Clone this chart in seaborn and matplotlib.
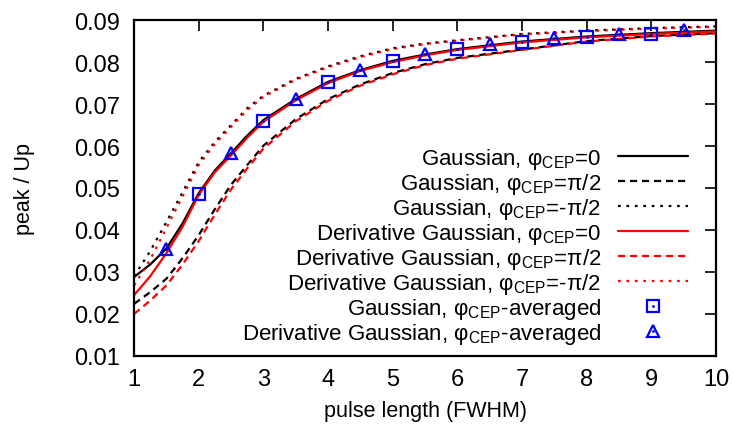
import numpy as np
import pandas as pd
import matplotlib
matplotlib.use("Agg")
import matplotlib.pyplot as plt
import seaborn as sns
from matplotlib.legend_handler import HandlerTuple

# ---- data ----
x_curve = [1.0, 1.25, 1.5, 1.75, 2.0, 2.25, 2.5, 2.75, 3.0, 3.5, 4.0, 4.5, 5.0, 5.5, 6.0, 7.0, 8.0, 9.0, 10.0]

gauss_0 = [0.0288, 0.0318, 0.0356, 0.0416, 0.0488, 0.0542, 0.0583, 0.0625, 0.0662, 0.0712, 0.0753,
           0.0781, 0.0803, 0.0818, 0.0831, 0.0849, 0.0861, 0.0869, 0.0875]
gauss_p = [0.0224, 0.0252, 0.0284, 0.0333, 0.0388, 0.0450, 0.0508, 0.0555, 0.0601, 0.0664, 0.0712,
           0.0747, 0.0774, 0.0795, 0.0810, 0.0830, 0.0850, 0.0862, 0.0869]
gauss_m = [0.0290, 0.0350, 0.0419, 0.0490, 0.0562, 0.0610, 0.0650, 0.0690, 0.0720, 0.0760, 0.0790,
           0.0814, 0.0833, 0.0844, 0.0852, 0.0867, 0.0875, 0.0881, 0.0885]
dgauss_0 = [0.0245, 0.0290, 0.0345, 0.0408, 0.0484, 0.0538, 0.0578, 0.0620, 0.0658, 0.0709, 0.0750,
            0.0779, 0.0800, 0.0816, 0.0829, 0.0847, 0.0859, 0.0867, 0.0873]
dgauss_p = [0.0200, 0.0232, 0.0268, 0.0318, 0.0374, 0.0437, 0.0497, 0.0547, 0.0594, 0.0659, 0.0708,
            0.0744, 0.0771, 0.0793, 0.0808, 0.0829, 0.0849, 0.0861, 0.0868]
dgauss_m = [0.0268, 0.0330, 0.0405, 0.0480, 0.0555, 0.0605, 0.0646, 0.0686, 0.0717, 0.0758, 0.0788,
            0.0812, 0.0831, 0.0843, 0.0851, 0.0866, 0.0874, 0.0880, 0.0884]

x_gauss_avg = [2, 3, 4, 5, 6, 7, 8, 9]
gauss_avg = [0.0486, 0.0660, 0.0752, 0.0802, 0.0831, 0.0848, 0.0859, 0.0868]
x_dgauss_avg = [1.5, 2.5, 3.5, 4.5, 5.5, 6.5, 7.5, 8.5, 9.5]
dgauss_avg = [0.0355, 0.0583, 0.0712, 0.0781, 0.0819, 0.0842, 0.0857, 0.0868, 0.0876]

labels = [
    "Gaussian, φ$_{\\mathrm{CEP}}$=0",
    "Gaussian, φ$_{\\mathrm{CEP}}$=π/2",
    "Gaussian, φ$_{\\mathrm{CEP}}$=-π/2",
    "Derivative Gaussian, φ$_{\\mathrm{CEP}}$=0",
    "Derivative Gaussian, φ$_{\\mathrm{CEP}}$=π/2",
    "Derivative Gaussian, φ$_{\\mathrm{CEP}}$=-π/2",
    "Gaussian, φ$_{\\mathrm{CEP}}$-averaged",
    "Derivative Gaussian, φ$_{\\mathrm{CEP}}$-averaged",
]
x_ticks = [1, 2, 3, 4, 5, 6, 7, 8, 9, 10]
y_ticks = [0.01, 0.02, 0.03, 0.04, 0.05, 0.06, 0.07, 0.08, 0.09]

# ---- style ----
sns.set_theme(style="white")
plt.rcParams["font.family"] = ["Liberation Sans", "DejaVu Sans"]
plt.rcParams["mathtext.fontset"] = "custom"
plt.rcParams["mathtext.rm"] = "Liberation Sans"
plt.rcParams["mathtext.it"] = "Liberation Sans"
plt.rcParams["font.size"] = 14
plt.rcParams["text.color"] = "black"
plt.rcParams["axes.labelcolor"] = "black"

fig = plt.figure(figsize=(7.33, 4.31), dpi=100)
ax = fig.add_axes([0.183, 0.172, 0.794, 0.779])

dash = (0, (3.2, 2.2))
dot = (0, (1.2, 2.6))
lw = 1.6

series = [
    (gauss_0, "black", "-"),
    (gauss_p, "black", dash),
    (gauss_m, "black", dot),
    (dgauss_0, "red", "-"),
    (dgauss_p, "red", dash),
    (dgauss_m, "red", dot),
]
handles = []
for (ys, col, ls), lab in zip(series, labels[:6]):
    df = pd.DataFrame({"x": x_curve, "y": ys})
    sns.lineplot(data=df, x="x", y="y", color=col, linestyle=ls, linewidth=lw, ax=ax)
    handles.append(ax.get_lines()[-1])

def markers(xs, ys, m, ms):
    df = pd.DataFrame({"x": xs, "y": ys})
    sns.lineplot(data=df, x="x", y="y", linestyle="", marker=m, markersize=ms,
                 markerfacecolor="none", markeredgecolor="blue", markeredgewidth=1.6,
                 color="blue", ax=ax, zorder=5)
    h1 = ax.get_lines()[-1]
    sns.lineplot(data=df, x="x", y="y", linestyle="", marker="o", markersize=2.0,
                 markerfacecolor="blue", markeredgecolor="blue", markeredgewidth=0,
                 color="blue", ax=ax, zorder=6)
    h2 = ax.get_lines()[-1]
    return (h1, h2)

handles.append(markers(x_gauss_avg, gauss_avg, "s", 9))
handles.append(markers(x_dgauss_avg, dgauss_avg, "^", 9))

ax.set_xlim(1, 10)
ax.set_ylim(0.01, 0.09)
ax.set_xticks(x_ticks)
ax.set_xticklabels([str(t) for t in x_ticks])
ax.set_yticks(y_ticks)
ax.set_yticklabels([f"{t:.2f}" for t in y_ticks])
ax.tick_params(direction="in", length=8, width=1.2, top=True, right=True,
               labelsize=17, colors="black")
ax.tick_params(axis="x", pad=9)
ax.tick_params(axis="y", pad=10)
for s in ax.spines.values():
    s.set_visible(True)
    s.set_color("black")
    s.set_linewidth(1.6)
ax.set_xlabel("pulse length (FWHM)", fontsize=15.5, labelpad=7, color="black")
ax.set_ylabel("peak / Up", fontsize=15.5, labelpad=28, color="black")

leg = ax.legend(handles, labels, loc="lower right", bbox_to_anchor=(0.952, 0.03),
                frameon=False, markerfirst=False, handlelength=3.15, handletextpad=0.77,
                labelspacing=0.0, fontsize=16, borderaxespad=0, borderpad=0,
                handler_map={tuple: HandlerTuple(ndivide=1)})
for t in leg.get_texts():
    t.set_color("black")

fig.savefig("out.png", dpi=100)
